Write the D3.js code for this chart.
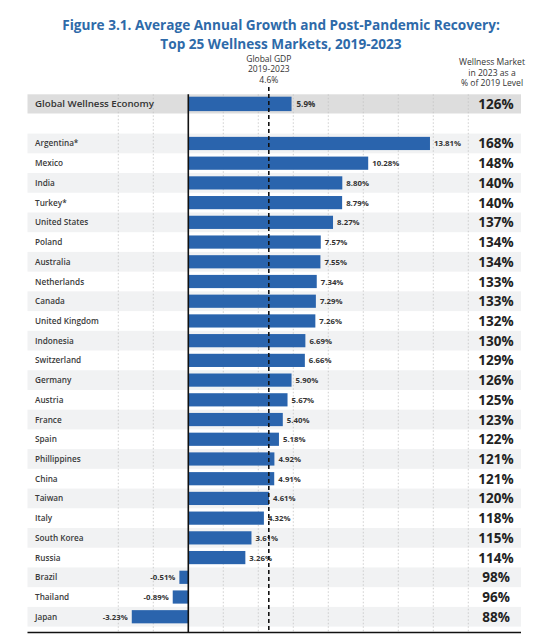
<!DOCTYPE html>
<html><head><meta charset="utf-8">
<script src="https://cdn.jsdelivr.net/npm/d3@7"></script>
<style>html,body{margin:0;padding:0;background:#fff;}svg{display:block;}</style>
</head><body>
<svg id="chart" width="560" height="634"></svg>
<script>
const countries = ["Argentina*","Mexico","India","Turkey*","United States","Poland","Australia","Netherlands","Canada","United Kingdom","Indonesia","Switzerland","Germany","Austria","France","Spain","Phillippines","China","Taiwan","Italy","South Korea","Russia","Brazil","Thailand","Japan"];
const growth = [13.81,10.28,8.80,8.79,8.27,7.57,7.55,7.34,7.29,7.26,6.69,6.66,5.90,5.67,5.40,5.18,4.92,4.91,4.61,4.32,3.61,3.26,-0.51,-0.89,-3.23];
const recovery = [168,148,140,140,137,134,134,133,133,132,130,129,126,125,123,122,121,121,120,118,115,114,98,96,88];
const globalLabel = "Global Wellness Economy";
const globalGrowth = 5.9;
const globalRecovery = 126;
const gdpGrowth = 4.6;
const gridTicks = [-4,-2,2,4,6,8,10,12,14,16];
const titleLines = ["Figure 3.1. Average Annual Growth and Post-Pandemic Recovery:","Top 25 Wellness Markets, 2019-2023"];
const gdpHeader = ["Global GDP","2019-2023","4.6%"];
const rightHeader = ["Wellness Market","in 2023 as a","% of 2019 Level"];

const svg = d3.select("#chart");
const FONT = "'Open Sans', 'Noto Sans', sans-serif";
const BLUE = "#2a64ad";
const left = 27.5, right = 521;
const x = d3.scaleLinear().domain([-4,16]).range([118.3,468.3]);
const y = d3.scaleBand().domain(countries).range([133.6, 133.6 + 19.72*25]).paddingInner(0).paddingOuter(0);
const gTop = 94.3, gBot = 113.5, gMid = (gTop+gBot)/2;
const bottom = 632.5;
const barH = 13.2;

// title
svg.selectAll("text.title").data(titleLines).join("text")
  .attr("class","title")
  .attr("x",281).attr("y",(d,i)=>30+i*19)
  .attr("text-anchor","middle")
  .attr("font-family",FONT).attr("font-weight",700).attr("font-size",13.6)
  .attr("fill","#2e6aa9").text(d=>d);

// headers
svg.selectAll("text.gdp").data(gdpHeader).join("text")
  .attr("x",x(gdpGrowth)).attr("y",(d,i)=>61.5+i*10.5)
  .attr("text-anchor","middle").attr("font-family",FONT).attr("font-size",8.5)
  .attr("fill","#333").text(d=>d);
svg.selectAll("text.rh").data(rightHeader).join("text")
  .attr("x",492).attr("y",(d,i)=>65+i*10.5)
  .attr("text-anchor","middle").attr("font-family",FONT).attr("font-size",8.6)
  .attr("fill","#333").text(d=>d);

// global band
svg.append("rect").attr("x",left).attr("y",gTop).attr("width",right-left).attr("height",gBot-gTop).attr("fill","#dddddd");
// row bands
svg.selectAll("rect.band").data(countries.filter((d,i)=>i%2===0)).join("rect")
  .attr("x",left).attr("y",d=>y(d)).attr("width",right-left).attr("height",y.bandwidth())
  .attr("fill","#f1f2f3");

// gridlines
svg.selectAll("line.grid").data(gridTicks).join("line")
  .attr("x1",d=>x(d)).attr("x2",d=>x(d)).attr("y1",gTop).attr("y2",bottom)
  .attr("stroke","#c4c4c4").attr("stroke-width",0.8).attr("stroke-dasharray","1.5,2");

// global bar
svg.append("rect").attr("x",x(0)).attr("y",gMid-7.2).attr("width",x(globalGrowth)-x(0)).attr("height",14.4).attr("fill",BLUE);
svg.append("text").attr("x",x(globalGrowth)+5).attr("y",gMid+3).attr("font-family",FONT).attr("font-weight",700).attr("font-size",8).attr("fill","#333").text(globalGrowth.toFixed(1)+"%");
svg.append("text").attr("x",35).attr("y",gMid+3.5).attr("font-family",FONT).attr("font-weight",600).attr("font-size",9.7).attr("fill","#333").text(globalLabel);
svg.append("text").attr("x",496).attr("y",gMid+5).attr("text-anchor","middle").attr("font-family",FONT).attr("font-weight",700).attr("font-size",13.5).attr("fill","#222").text(globalRecovery+"%");

// bars
const data = countries.map((c,i)=>({c, g:growth[i], r:recovery[i]}));
svg.selectAll("rect.bar").data(data).join("rect")
  .attr("x",d=>x(Math.min(0,d.g))).attr("width",d=>Math.abs(x(d.g)-x(0)))
  .attr("y",d=>y(d.c)+y.bandwidth()/2-barH/2).attr("height",barH).attr("fill",BLUE);

// labels
svg.selectAll("text.cname").data(data).join("text")
  .attr("x",35).attr("y",d=>y(d.c)+y.bandwidth()/2+3)
  .attr("font-family",FONT).attr("font-weight",600).attr("font-size",8.2).attr("fill","#3a3a3a").text(d=>d.c);
svg.selectAll("text.val").data(data).join("text")
  .attr("x",d=>d.g>=0 ? x(d.g)+4 : x(d.g)-4)
  .attr("text-anchor",d=>d.g>=0?"start":"end")
  .attr("y",d=>y(d.c)+y.bandwidth()/2+3)
  .attr("font-family",FONT).attr("font-weight",700).attr("font-size",7.8).attr("fill","#333").text(d=>d.g.toFixed(2)+"%");
svg.selectAll("text.rec").data(data).join("text")
  .attr("x",496).attr("y",d=>y(d.c)+y.bandwidth()/2+5)
  .attr("text-anchor","middle").attr("font-family",FONT).attr("font-weight",700).attr("font-size",13.5).attr("fill","#222").text(d=>d.r+"%");

// zero line & gdp line
svg.append("line").attr("x1",x(0)).attr("x2",x(0)).attr("y1",gTop).attr("y2",bottom).attr("stroke","#111").attr("stroke-width",1.6);
svg.append("line").attr("x1",x(gdpGrowth)).attr("x2",x(gdpGrowth)).attr("y1",87).attr("y2",bottom).attr("stroke","#111").attr("stroke-width",1.6).attr("stroke-dasharray","4,3");
// bottom line
svg.append("line").attr("x1",left).attr("x2",right).attr("y1",bottom).attr("y2",bottom).attr("stroke","#111").attr("stroke-width",1.6);
</script>
</body></html>
